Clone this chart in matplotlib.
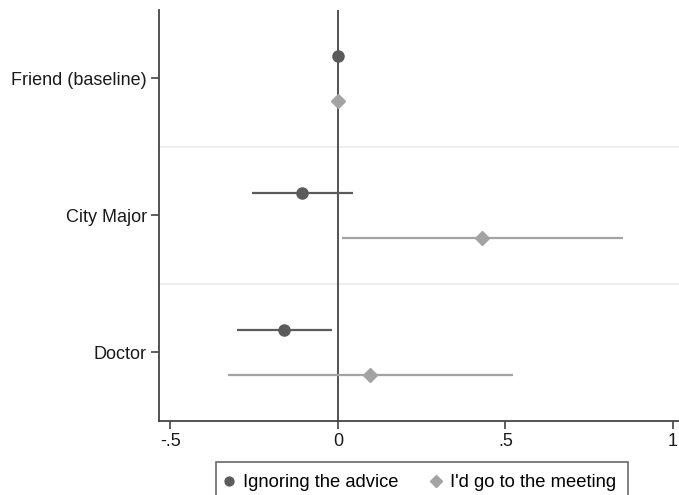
import matplotlib.pyplot as plt
import numpy as np

plt.rcParams['font.family'] = ['Liberation Sans', 'DejaVu Sans']

categories = ['Friend (baseline)', 'City Major', 'Doctor']

# coefficient estimates with 95% confidence bounds
ignore_coef = [0.0, -0.107, -0.160]
ignore_lo = [0.0, -0.256, -0.301]
ignore_hi = [0.0, 0.044, -0.019]

meeting_coef = [0.0, 0.431, 0.096]
meeting_lo = [0.0, 0.011, -0.327]
meeting_hi = [0.0, 0.852, 0.521]

dark = '#5b5b5b'
light = '#a3a3a3'

fig = plt.figure(figsize=(6.79, 4.95), dpi=100)
ax = fig.add_axes([0.2348, 0.1495, 0.7652, 0.8303])

pos = np.arange(1, len(categories) + 1)
off = 1 / 6

# light separators between groups
for b in pos[:-1] + 0.5:
    ax.axhline(b, color='#ebebeb', lw=1.2, zorder=0)

ax.axvline(0, color='#444444', lw=1.3, zorder=1)

ax.hlines(pos + off, meeting_lo, meeting_hi, color=light, lw=1.6, zorder=2)
ax.plot(meeting_coef, pos + off, 'D', color=light, ms=7.5, ls='none', zorder=3,
        label="I'd go to the meeting")
ax.hlines(pos - off, ignore_lo, ignore_hi, color=dark, lw=1.6, zorder=2)
ax.plot(ignore_coef, pos - off, 'o', color=dark, ms=8, ls='none', zorder=3,
        label='Ignoring the advice')

ax.set_ylim(3.5, 0.5)
ax.set_xlim(-0.533, 1.018)
ax.set_yticks(pos)
ax.set_yticklabels(categories)
ax.set_xticks([-0.5, 0, 0.5, 1])
ax.set_xticklabels(['-.5', '0', '.5', '1'])

for s in ['top', 'right']:
    ax.spines[s].set_visible(False)
for s in ['left', 'bottom']:
    ax.spines[s].set_color('#444444')
    ax.spines[s].set_linewidth(1.3)
ax.tick_params(axis='both', length=6, width=1.2, color='#444444',
               labelsize=13, labelcolor='#1a1a1a', pad=3)

h, l = ax.get_legend_handles_labels()
leg = fig.legend(h[::-1], l[::-1], loc='upper center', bbox_to_anchor=(0.6216, 0.0666),
                 ncol=2, fontsize=13.2, frameon=True, fancybox=False,
                 edgecolor='#444444', handletextpad=0.72, columnspacing=1.95,
                 borderpad=0.68, borderaxespad=0, handlelength=0.1,
                 markerscale=0.8)
leg.get_frame().set_linewidth(1.2)

fig.savefig('out.png', dpi=100)
